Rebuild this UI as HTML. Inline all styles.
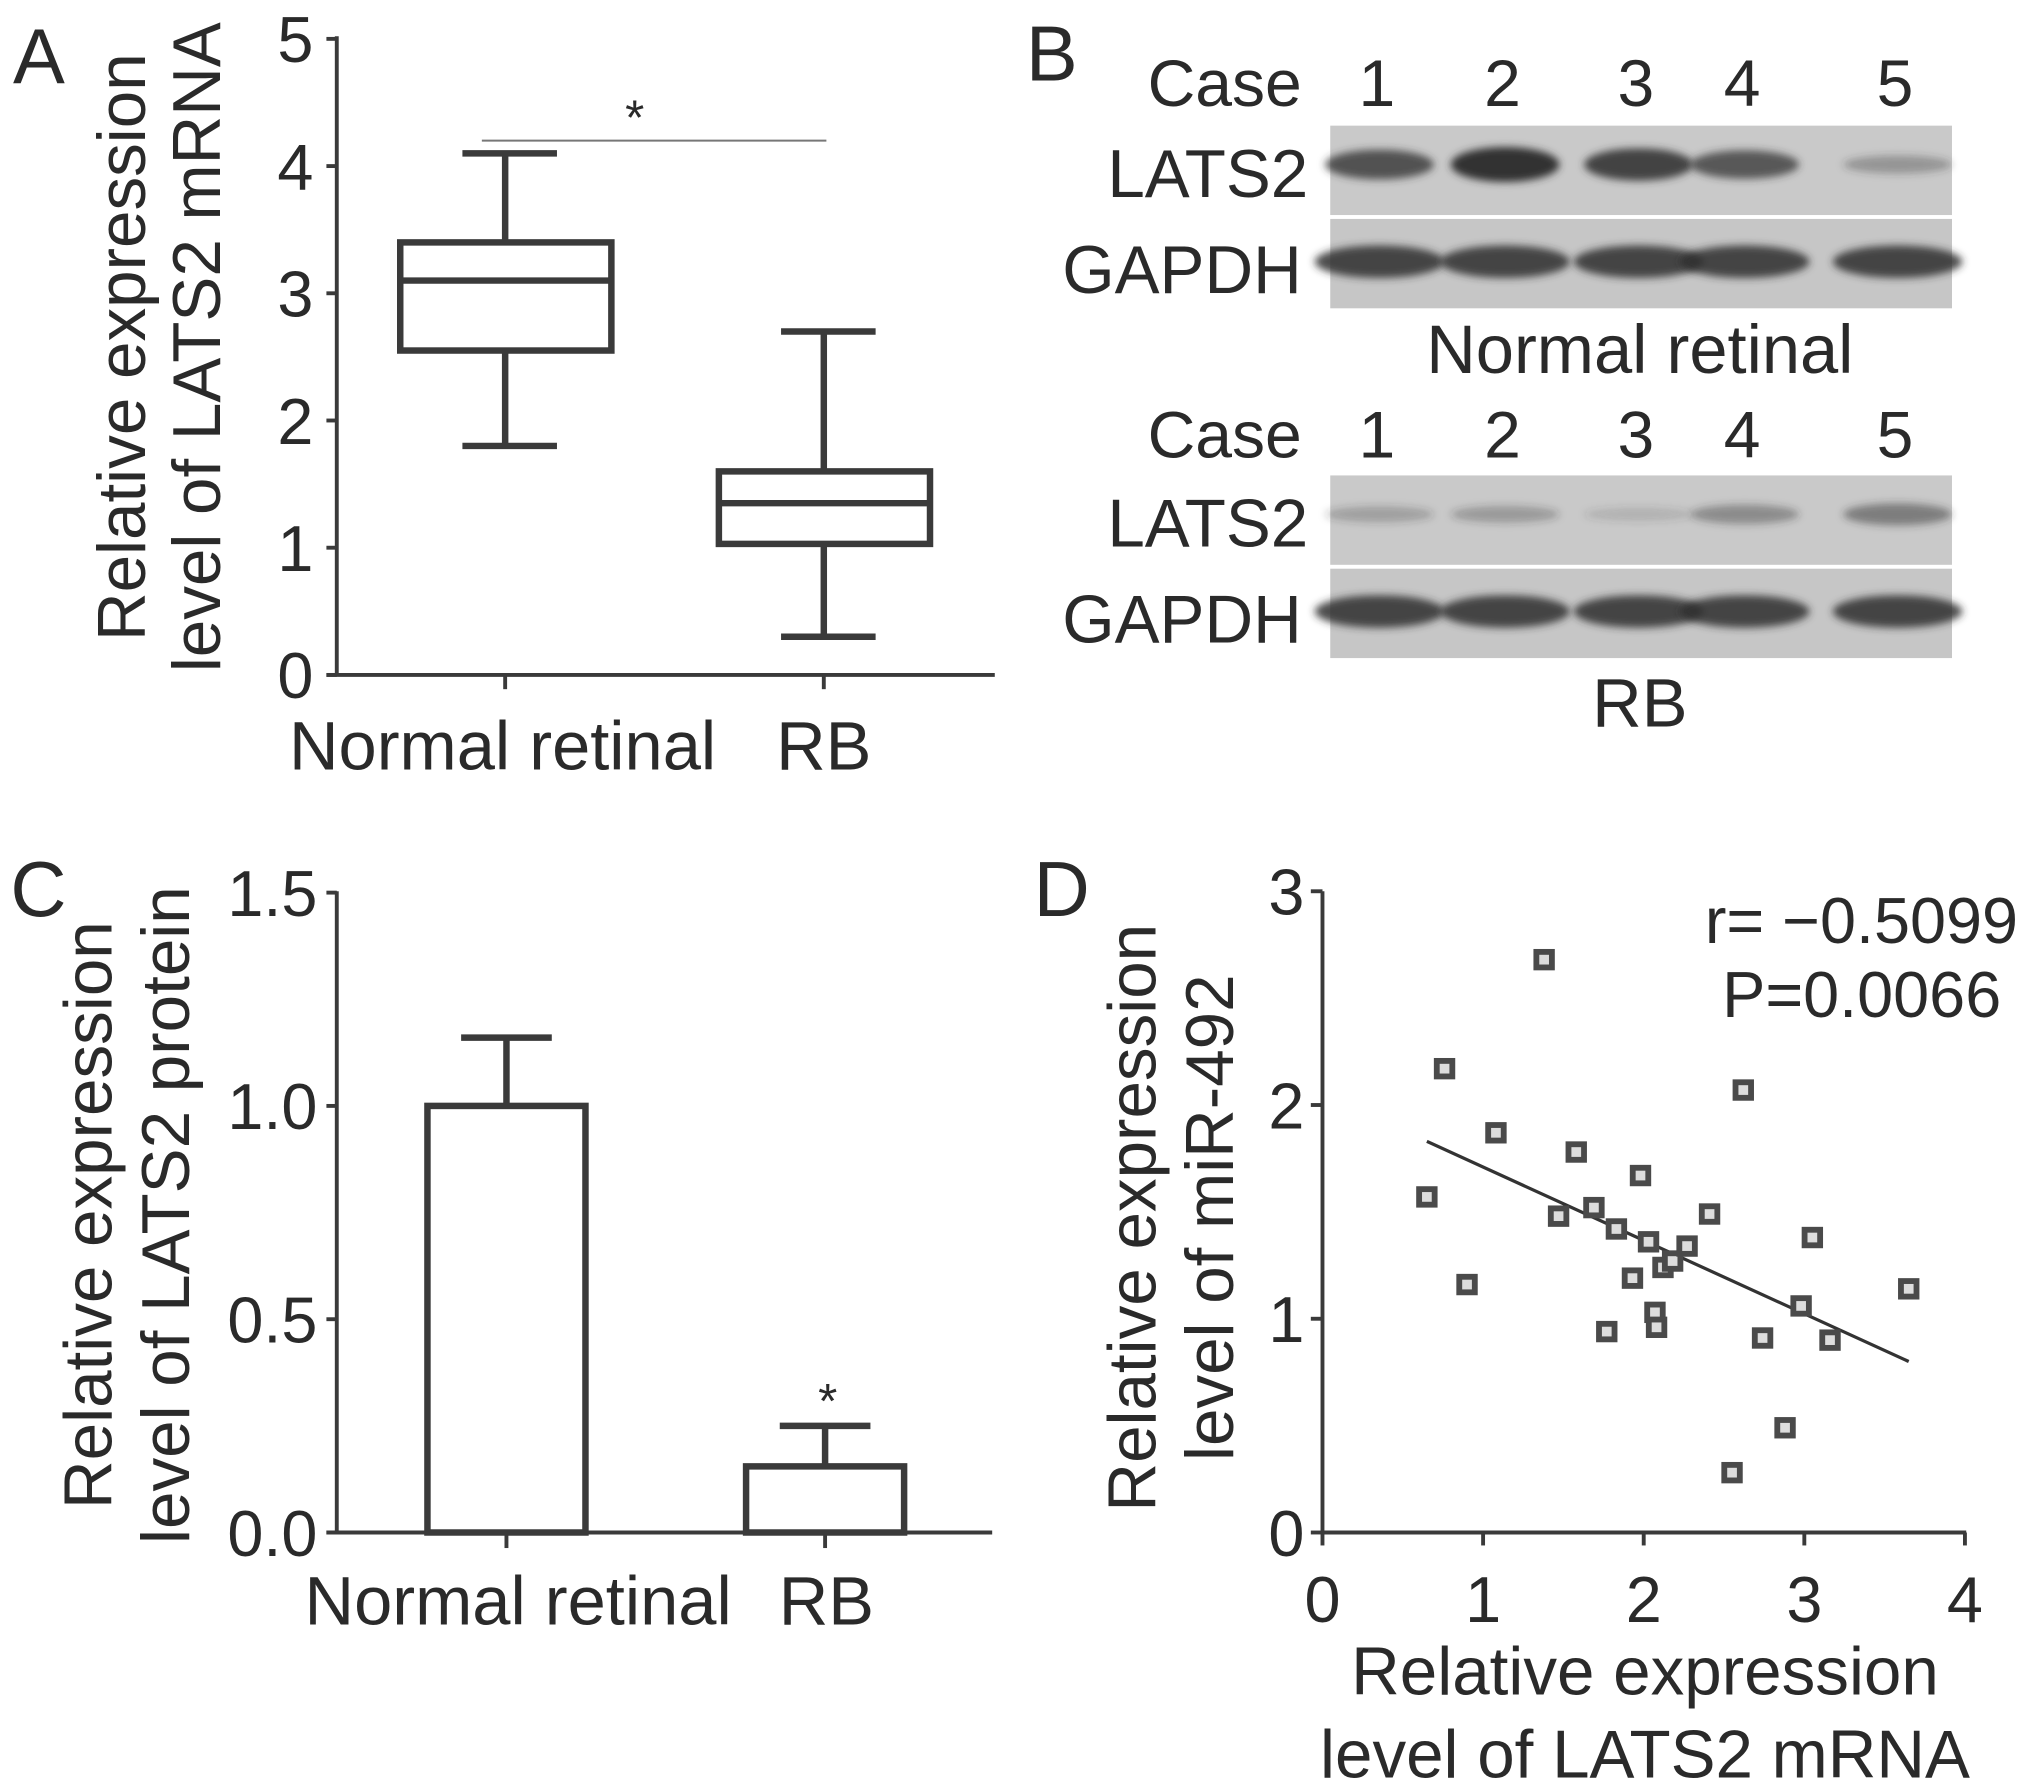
<!DOCTYPE html>
<html><head><meta charset="utf-8"><style>
html,body{margin:0;padding:0;background:#fff}
svg{display:block}
text{font-family:"Liberation Sans",sans-serif;fill:#2a2a2a}
</style></head><body>
<svg id="fig" width="2031" height="1789" viewBox="0 0 1568 1381" preserveAspectRatio="none" xmlns="http://www.w3.org/2000/svg">
<defs><filter id="blur" x="-20%" y="-50%" width="140%" height="200%"><feGaussianBlur stdDeviation="3"/></filter></defs>
<g id="pa"></g>
<g id="pb"></g>
<g id="pc"></g>
<g id="pd"></g>
</svg>
<script>
// Panel A data
const aCategories = ["Normal retinal", "RB"];
const aWhiskerLow = [1.8, 0.3];
const aQ1 = [2.55, 1.03];
const aMedian = [3.1, 1.35];
const aQ3 = [3.4, 1.6];
const aWhiskerHigh = [4.1, 2.7];
const aTicks = [0, 1, 2, 3, 4, 5];
// Panel C data
const cCategories = ["Normal retinal", "RB"];
const cMeans = [1.0, 0.155];
const cErrors = [0.16, 0.095];
const cTicks = ["0.0", "0.5", "1.0", "1.5"];
// Panel D data
const dX = [1.38,0.76,1.08,0.65,0.90,1.58,1.47,1.69,1.83,1.98,2.03,1.93,2.12,2.18,2.27,2.41,2.07,2.08,1.77,2.62,2.55,2.88,2.74,2.98,3.05,3.16,3.65];
const dY = [2.68,2.17,1.87,1.57,1.16,1.78,1.48,1.52,1.42,1.67,1.36,1.19,1.24,1.27,1.34,1.49,1.03,0.96,0.94,2.07,0.28,0.49,0.91,1.06,1.38,0.90,1.14];
const dFitX = [0.65, 3.65];
const dFitY = [1.83, 0.80];
const dXTicks = [0, 1, 2, 3, 4];
const dYTicks = [0, 1, 2, 3];
// Panel B band intensities (0..1)
const bNormalLats2 = [0.75, 0.95, 0.85, 0.7, 0.3];
const bRbLats2 = [0.22, 0.25, 0.12, 0.35, 0.45];
const bGapdh = [0.95, 0.95, 0.95, 0.95, 0.95];

const NS = "http://www.w3.org/2000/svg";
const INK = "#3a3a3a";
function mk(parent, tag, attrs, txt){
  const e = document.createElementNS(NS, tag);
  for (const k in attrs) e.setAttribute(k, attrs[k]);
  if (txt !== undefined) e.textContent = txt;
  parent.appendChild(e); return e;
}
function ln(p,x1,y1,x2,y2,w,c){return mk(p,"line",{x1,y1,x2,y2,stroke:c||INK,"stroke-width":w||3});}

// ---------- Panel A ----------
const pa = document.getElementById("pa");
const aY = v => 521 - v * 98.2;
const aX = i => [390, 636][i];
let t = mk(pa,"text",{x:10,y:64,"font-size":60},"A");
 
ln(pa,260,28,260,522,3); ln(pa,252,521,768,521,3);
aTicks.forEach(v=>{
  ln(pa,252,aY(v),260,aY(v),3);
  const e = mk(pa,"text",{x:242,y:aY(v)+18,"font-size":50,"text-anchor":"end"},String(v));
   
});
aCategories.forEach((c,i)=>{
  const x = aX(i);
  ln(pa,x,521,x,532,3);
  const e = mk(pa,"text",{x:i==0?388:636,y:594,"font-size":53,"text-anchor":"middle"},c);
   
  const g = mk(pa,"g",{});
   
  ln(g,x,aY(aWhiskerHigh[i]),x,aY(aQ3[i]),5);
  ln(g,x,aY(aQ1[i]),x,aY(aWhiskerLow[i]),5);
  ln(g,x-33,aY(aWhiskerHigh[i]),x+40,aY(aWhiskerHigh[i]),5);
  ln(g,x-33,aY(aWhiskerLow[i]),x+40,aY(aWhiskerLow[i]),5);
  mk(g,"rect",{x:x-81,y:aY(aQ3[i]),width:163,height:aY(aQ1[i])-aY(aQ3[i]),fill:"none",stroke:INK,"stroke-width":5});
  ln(g,x-81,aY(aMedian[i]),x+82,aY(aMedian[i]),5);
});
ln(pa,372,aY(4.2),638,aY(4.2),1.5,"#777");
t = mk(pa,"text",{x:490,y:104,"font-size":38,"text-anchor":"middle"},"*");
 
t = mk(pa,"text",{transform:"translate(112,268) rotate(-90)","font-size":52,"text-anchor":"middle"},"Relative expression");
 
t = mk(pa,"text",{transform:"translate(170,268) rotate(-90)","font-size":52,"text-anchor":"middle"},"level of LATS2 mRNA");
 

// ---------- Panel B ----------
const pb = document.getElementById("pb");
t = mk(pb,"text",{x:792,y:62,"font-size":60},"B");
 
const lanes = [1063, 1160, 1263, 1345, 1463];
function blot(y0, lats, caseY, title, titleY){
  let e = mk(pb,"text",{x:1005,y:caseY,"font-size":51,"text-anchor":"end"},"Case");
   
  lanes.forEach((x,i)=>{
    const n = mk(pb,"text",{x:x,y:caseY,"font-size":51,"text-anchor":"middle"},String(i+1));
     
  });
  e = mk(pb,"text",{x:1010,y:y0+55,"font-size":52,"text-anchor":"end"},"LATS2");
   
  e = mk(pb,"text",{x:1005,y:y0+129,"font-size":52,"text-anchor":"end"},"GAPDH");
   
  const r1 = mk(pb,"rect",{x:1027,y:y0,width:480,height:69,fill:"#c9c9c9"});
   
  const r2 = mk(pb,"rect",{x:1027,y:y0+72,width:480,height:69,fill:"#c6c6c6"});
   
  lanes.forEach((x,i)=>{
    const v = lats[i];
    const b = mk(pb,"ellipse",{cx:x+2,cy:y0+30,rx:42,ry:4+v*10,fill:"#333","fill-opacity":Math.min(1,v+0.05),filter:"url(#blur)"});
     
    const g = mk(pb,"ellipse",{cx:x+2,cy:y0+105,rx:50,ry:4+bGapdh[i]*9,fill:"#2e2e2e","fill-opacity":bGapdh[i]*0.9,filter:"url(#blur)"});
     
  });
  e = mk(pb,"text",{x:1266,y:titleY,"font-size":53,"text-anchor":"middle"},title);
   
}
blot(97, bNormalLats2, 82, "Normal retinal", 288);
blot(367, bRbLats2, 353, "RB", 561);

// ---------- Panel C ----------
const pc = document.getElementById("pc");
const cY = v => 1183 - v * 329.3;
const cX = i => [391, 637][i];
t = mk(pc,"text",{x:8,y:707,"font-size":60},"C");
 
ln(pc,260,688,260,1184,3); ln(pc,252,1183,766,1183,3);
cTicks.forEach(s=>{
  const v = parseFloat(s);
  ln(pc,252,cY(v),260,cY(v),3);
  const e = mk(pc,"text",{x:245,y:cY(v)+18,"font-size":50,"text-anchor":"end"},s);
   
});
cCategories.forEach((c,i)=>{
  const x = cX(i);
  ln(pc,x,1183,x,1195,3);
  const e = mk(pc,"text",{x:i==0?400:638,y:1254,"font-size":53,"text-anchor":"middle"},c);
   
  ln(pc,x,cY(cMeans[i]+cErrors[i]),x,cY(cMeans[i]),5);
  ln(pc,x-35,cY(cMeans[i]+cErrors[i]),x+35,cY(cMeans[i]+cErrors[i]),5);
  const b = mk(pc,"rect",{x:x-61,y:cY(cMeans[i]),width:122,height:cY(0)-cY(cMeans[i]),fill:"#fff",stroke:INK,"stroke-width":5});
   
});
t = mk(pc,"text",{x:639,y:cY(cMeans[1]+cErrors[1])-6,"font-size":38,"text-anchor":"middle"},"*");
 
t = mk(pc,"text",{transform:"translate(86,938) rotate(-90)","font-size":52,"text-anchor":"middle"},"Relative expression");
 
t = mk(pc,"text",{transform:"translate(146,938) rotate(-90)","font-size":52,"text-anchor":"middle"},"level of LATS2 protein");
 

// ---------- Panel D ----------
const pd = document.getElementById("pd");
const dxS = v => 1021 + v * 124;
const dyS = v => 1183 - v * 165;
t = mk(pd,"text",{x:798,y:707,"font-size":60},"D");
 
ln(pd,1021,688,1021,1184,3); ln(pd,1020,1183,1518,1183,3);
dYTicks.forEach(v=>{
  ln(pd,1012,dyS(v),1021,dyS(v),3);
  const e = mk(pd,"text",{x:1007,y:dyS(v)+18,"font-size":50,"text-anchor":"end"},String(v));
   
});
dXTicks.forEach(v=>{
  ln(pd,dxS(v),1183,dxS(v),1193,3);
  const e = mk(pd,"text",{x:dxS(v),y:1252,"font-size":50,"text-anchor":"middle"},String(v));
   
});
const fit = mk(pd,"line",{x1:dxS(dFitX[0]),y1:dyS(dFitY[0]),x2:dxS(dFitX[1]),y2:dyS(dFitY[1]),stroke:"#333","stroke-width":2.5});
 
dX.forEach((x,i)=>{
  const p = mk(pd,"rect",{x:dxS(x)-6,y:dyS(dY[i])-6,width:12,height:12,fill:"#ddd",stroke:"#4a4a4a","stroke-width":4.5});
   
});
t = mk(pd,"text",{x:1558,y:728,"font-size":50,"text-anchor":"end"},"r= −0.5099");
 
t = mk(pd,"text",{x:1545,y:785,"font-size":50,"text-anchor":"end"},"P=0.0066");
 
t = mk(pd,"text",{x:1270,y:1308,"font-size":52,"text-anchor":"middle"},"Relative expression");
 
t = mk(pd,"text",{x:1270,y:1372,"font-size":52,"text-anchor":"middle"},"level of LATS2 mRNA");
 
t = mk(pd,"text",{transform:"translate(892,940) rotate(-90)","font-size":52,"text-anchor":"middle"},"Relative expression");
 
t = mk(pd,"text",{transform:"translate(952,940) rotate(-90)","font-size":52,"text-anchor":"middle"},"level of miR-492");
 
</script>
</body></html>
